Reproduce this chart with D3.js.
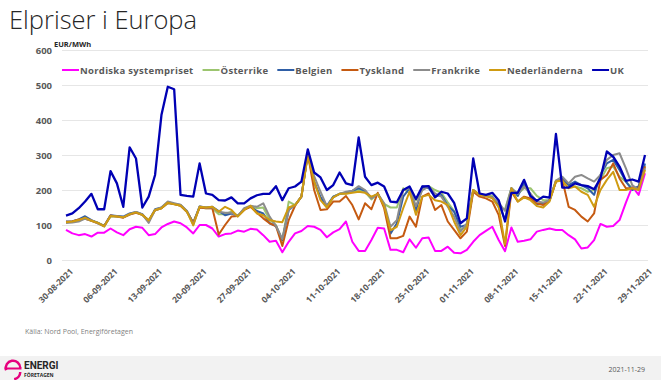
<!DOCTYPE html>
<html>
<head>
<meta charset="utf-8">
<script src="https://cdn.jsdelivr.net/npm/d3@7"></script>
<style>
  body { margin: 0; background: #fff; }
  svg { display: block; font-family: "Open Sans", "Liberation Sans", sans-serif; }
</style>
</head>
<body>
<svg id="chart" width="661" height="380"></svg>
<script>
// daily prices 30-08-2021 .. 29-11-2021 (EUR/MWh)
const firstDay = new Date(2021, 7, 30);
const lastDay = new Date(2021, 10, 29);
const days = d3.timeDay.range(firstDay, d3.timeDay.offset(lastDay, 1));

const tickLabels = ['30-08-2021', '06-09-2021', '13-09-2021', '20-09-2021', '27-09-2021', '04-10-2021',
    '11-10-2021', '18-10-2021', '25-10-2021', '01-11-2021', '08-11-2021', '15-11-2021', '22-11-2021', '29-11-2021'];
const yTicks = [0, 100, 200, 300, 400, 500, 600];

const nordiska = [86, 76, 71, 74, 67, 78, 78, 90, 79, 71, 88, 95, 92, 71, 74, 93, 103, 110, 105, 93, 76, 100, 100, 90, 67, 74, 76, 84, 81, 89, 87,
    71, 52, 55, 22, 52, 76, 83, 97, 95, 86, 65, 79, 88, 110, 52, 26, 26, 57, 92, 90, 29, 29, 22, 59, 35, 62, 64, 26, 26, 38, 21,
    19, 29, 52, 71, 83, 95, 57, 25, 93, 52, 55, 59, 81, 86, 90, 86, 86, 71, 59, 33, 36, 57, 103, 95, 97, 114, 164, 210, 186, 248];

const osterrike = [108, 109, 113, 120, 112, 107, 98, 124, 124, 122, 130, 136, 128, 115, 142, 148, 162, 160, 155, 138, 108, 150, 148, 148, 131, 131, 138, 126, 145, 154, 148,
    150, 115, 100, 55, 167, 157, 181, 300, 220, 176, 150, 181, 189, 190, 195, 200, 195, 173, 189, 160, 150, 150, 205, 190, 171, 200, 211, 200, 192, 165, 140,
    86, 95, 200, 186, 186, 183, 150, 145, 205, 189, 205, 205, 183, 171, 171, 227, 229, 214, 210, 205, 195, 200, 229, 262, 267, 238, 224, 205, 210, 270];

const belgien = [110, 111, 116, 125, 114, 106, 97, 128, 126, 124, 133, 137, 131, 110, 145, 150, 165, 161, 157, 140, 105, 153, 150, 152, 140, 128, 133, 126, 146, 153, 140,
    133, 105, 97, 57, 143, 157, 181, 305, 225, 180, 155, 181, 189, 192, 198, 205, 198, 178, 189, 158, 75, 105, 181, 205, 141, 210, 205, 181, 186, 155, 138,
    95, 100, 200, 186, 183, 179, 160, 115, 205, 183, 219, 181, 160, 160, 171, 224, 233, 214, 224, 214, 205, 186, 243, 276, 286, 257, 224, 200, 210, 276];

const tyskland = [109, 110, 116, 118, 112, 105, 97, 127, 124, 121, 130, 135, 129, 112, 142, 148, 163, 160, 155, 138, 106, 150, 148, 148, 73, 100, 124, 126, 143, 152, 135,
    119, 105, 97, 40, 114, 155, 181, 305, 200, 143, 145, 167, 167, 183, 157, 116, 162, 145, 192, 148, 62, 62, 69, 124, 95, 181, 190, 143, 157, 110, 86,
    62, 81, 195, 181, 176, 167, 129, 40, 195, 167, 181, 176, 162, 157, 171, 224, 229, 152, 143, 124, 110, 133, 229, 243, 276, 233, 205, 205, 205, 267];

const frankrike = [106, 107, 110, 118, 113, 105, 96, 126, 125, 122, 131, 137, 130, 106, 143, 150, 167, 162, 158, 140, 101, 153, 150, 150, 138, 135, 135, 125, 148, 155, 152,
    162, 124, 97, 60, 143, 157, 181, 305, 240, 195, 154, 179, 189, 195, 198, 211, 200, 176, 189, 162, 95, 114, 200, 205, 154, 200, 210, 190, 181, 152, 124,
    81, 105, 200, 186, 186, 179, 164, 140, 205, 189, 210, 190, 167, 164, 171, 227, 238, 219, 238, 243, 233, 224, 243, 286, 300, 305, 262, 214, 200, 262];

const nederlanderna = [108, 110, 114, 121, 112, 106, 96, 126, 124, 122, 131, 136, 129, 113, 143, 148, 164, 159, 156, 138, 99, 152, 150, 152, 138, 152, 143, 124, 143, 155, 133,
    128, 114, 110, 108, 150, 157, 181, 300, 225, 171, 150, 179, 189, 189, 192, 195, 192, 181, 189, 154, 85, 95, 148, 195, 129, 181, 186, 171, 167, 157, 110,
    71, 95, 200, 186, 183, 176, 152, 45, 205, 167, 179, 171, 154, 150, 167, 224, 227, 205, 210, 195, 186, 152, 200, 229, 252, 200, 200, 205, 200, 257];

const uk = [127, 133, 148, 167, 189, 145, 145, 254, 219, 152, 322, 290, 150, 181, 243, 414, 495, 488, 186, 183, 181, 276, 190, 186, 171, 170, 179, 162, 162, 176, 185,
    189, 189, 211, 171, 205, 210, 224, 316, 250, 236, 200, 214, 250, 219, 214, 350, 238, 214, 221, 210, 167, 165, 200, 210, 174, 210, 211, 179, 195, 190, 163,
    105, 119, 290, 190, 186, 192, 171, 110, 192, 192, 229, 183, 169, 181, 178, 360, 207, 207, 219, 214, 211, 202, 233, 310, 295, 267, 226, 230, 224, 300];

const seriesNames = ['Nordiska systempriset', 'Österrike', 'Belgien', 'Tyskland', 'Frankrike', 'Nederländerna', 'UK'];
const seriesValues = [nordiska, osterrike, belgien, tyskland, frankrike, nederlanderna, uk];
const seriesColors = ['#ff00ff', '#9cc56f', '#2f5ea6', '#c55a11', '#8c8c8c', '#cf9b12', '#0000b4'];

const svg = d3.select('#chart');
const textColor = '#595959';

const x = d3.scaleTime().domain([firstDay, lastDay]).range([66, 645]);
const y = d3.scaleLinear().domain([0, 600]).range([260, 50]);

svg.append('rect').attr('width', 661).attr('height', 380).attr('fill', '#fff');

// title
svg.append('text')
    .attr('x', 9).attr('y', 29)
    .attr('font-family', '"Open Sans", sans-serif')
    .attr('font-size', 26)
    .attr('font-weight', 300)
    .attr('fill', '#262626')
    .attr('textLength', 188)
    .attr('lengthAdjust', 'spacingAndGlyphs')
    .text('Elpriser i Europa');

// y axis + grid
const yAxis = svg.append('g')
    .attr('transform', 'translate(62,0)')
    .call(d3.axisLeft(y).tickValues(yTicks).tickSize(-586).tickPadding(10));
yAxis.select('.domain').remove();
yAxis.selectAll('.tick line').attr('stroke', '#e6e6e6').attr('stroke-width', 1);
yAxis.selectAll('.tick text')
    .attr('fill', textColor)
    .attr('font-size', 9.5)
    .attr('font-weight', 'bold')
    .attr('font-family', '"Open Sans", sans-serif');

svg.append('text')
    .attr('x', 54).attr('y', 47)
    .attr('font-size', 7.5)
    .attr('font-weight', 'bold')
    .attr('fill', '#262626')
    .text('EUR/MWh');

// x axis labels, one per week
const tickDays = tickLabels.map(s => d3.timeParse('%d-%m-%Y')(s));
const xAxis = svg.append('g')
    .attr('transform', 'translate(0,260)')
    .call(d3.axisBottom(x).tickValues(tickDays).tickSize(0).tickFormat(d3.timeFormat('%d-%m-%Y')));
xAxis.select('.domain').remove();
xAxis.selectAll('.tick text')
    .attr('fill', textColor)
    .attr('font-size', 8.5)
    .attr('font-weight', 'bold')
    .attr('font-family', '"Open Sans", sans-serif')
    .attr('text-anchor', 'end')
    .attr('dy', 0)
    .attr('transform', 'translate(5,10) rotate(-45)');

// lines
const line = d3.line()
    .x((d, i) => x(days[i]))
    .y(d => y(d));

seriesValues.forEach((vals, k) => {
    svg.append('path')
        .datum(vals)
        .attr('d', line)
        .attr('fill', 'none')
        .attr('stroke', seriesColors[k])
        .attr('stroke-width', k === 6 ? 2.3 : 2)
        .attr('stroke-linejoin', 'round');
});

// legend
const legend = svg.append('g').attr('transform', 'translate(62,70)');
let lx = 0;
seriesNames.forEach((name, k) => {
    const g = legend.append('g').attr('transform', `translate(${lx},0)`);
    g.append('line')
        .attr('x1', 0).attr('x2', 17)
        .attr('stroke', seriesColors[k]).attr('stroke-width', 2);
    const t = g.append('text')
        .attr('x', 18).attr('y', 3.5)
        .attr('font-size', 9.5)
        .attr('font-weight', 'bold')
        .attr('letter-spacing', 0.3)
        .attr('fill', textColor)
        .text(name);
    lx += 18 + t.node().getComputedTextLength() + 9;
});

// source
svg.append('text')
    .attr('x', 25).attr('y', 334)
    .attr('font-size', 7)
    .attr('fill', '#7f7f7f')
    .text('Källa: Nord Pool, Energiföretagen');

// footer band
svg.append('rect')
    .attr('x', 0).attr('y', 356)
    .attr('width', 661).attr('height', 24)
    .attr('fill', '#f2f2f2');

const logo = svg.append('g').attr('transform', 'translate(13,368)');
logo.append('path')
    .attr('d', d3.arc()({ innerRadius: 6, outerRadius: 8.5, startAngle: -Math.PI * 0.6, endAngle: Math.PI * 0.5 }))
    .attr('fill', '#e6007e');
logo.append('path')
    .attr('d', d3.arc()({ innerRadius: 6, outerRadius: 8.5, startAngle: Math.PI * 0.5, endAngle: Math.PI * 0.95 }))
    .attr('fill', '#e6007e')
    .attr('transform', 'translate(0,4)');
logo.append('rect')
    .attr('x', -8.5).attr('y', -0.5)
    .attr('width', 17).attr('height', 2)
    .attr('fill', '#e6007e');

svg.append('text')
    .attr('x', 24).attr('y', 369)
    .attr('font-size', 10)
    .attr('font-weight', 'bold')
    .attr('font-family', '"Liberation Sans Narrow", "Roboto", sans-serif')
    .attr('fill', '#262626')
    .text('ENERGI');
svg.append('text')
    .attr('x', 24).attr('y', 377)
    .attr('font-size', 5)
    .attr('font-weight', 'bold')
    .attr('fill', '#262626')
    .text('FÖRETAGEN');

svg.append('text')
    .attr('x', 645).attr('y', 372)
    .attr('text-anchor', 'end')
    .attr('font-size', 7)
    .attr('fill', textColor)
    .text('2021-11-29');
</script>
</body>
</html>
